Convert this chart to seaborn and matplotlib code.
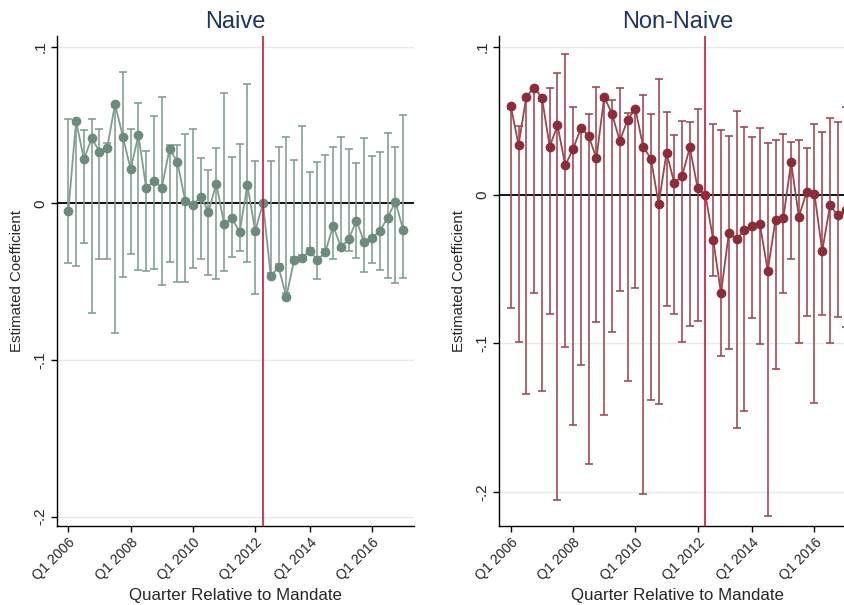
import numpy as np
import pandas as pd
import matplotlib
matplotlib.use("Agg")
import matplotlib.pyplot as plt
import seaborn as sns

# Quarter index 0 = Q1 2006 ... 43 = Q4 2016; mandate quarter (reference) = 25
quarters = list(range(44))
mandate_q = 25
tick_pos = [0, 8, 16, 24, 31, 39]
tick_labels = ["Q1 2006", "Q1 2008", "Q1 2010", "Q1 2012", "Q1 2014", "Q1 2016"]
ytick_vals = [0.1, 0.0, -0.1, -0.2]
ytick_labels = [".1", "0", "-.1", "-.2"]

nan = np.nan

coef_naive = [-0.0049, 0.0525, 0.0281, 0.0415, 0.0330, 0.0355, 0.0634, 0.0425, 0.0217, 0.0434,
              0.0096, 0.0143, 0.0100, 0.0347, 0.0266, 0.0017, -0.0011, 0.0043, -0.0055, 0.0126,
              -0.0130, -0.0096, -0.0183, 0.0115, -0.0177, 0.0, -0.0464, -0.0408, -0.0596, -0.0362,
              -0.0351, -0.0304, -0.0362, -0.0313, -0.0143, -0.0279, -0.0230, -0.0111, -0.0249, -0.0221,
              -0.0177, -0.0094, 0.0011, -0.0170]
upper_naive = [0.0538, 0.0505, 0.0468, 0.0538, 0.0472, 0.0383, 0.0614, 0.0840, 0.0472, 0.0638,
               0.0334, 0.0559, 0.0680, 0.0372, 0.0372, 0.0440, 0.0474, 0.0291, 0.0213, 0.0351,
               0.0706, 0.0294, 0.0377, 0.0759, 0.0272, nan, 0.0272, 0.0361, 0.0425, 0.0276,
               0.0496, 0.0202, 0.0262, 0.0310, 0.0360, 0.0421, 0.0349, 0.0260, 0.0417, 0.0302,
               0.0330, 0.0449, 0.0362, 0.0564]
lower_naive = [-0.0379, -0.0398, -0.0255, -0.0702, -0.0357, -0.0353, -0.0830, -0.0472, -0.0321, -0.0425,
               -0.0430, -0.0421, -0.0521, -0.0377, -0.0502, -0.0502, -0.0413, -0.0357, -0.0457, -0.0485,
               -0.0430, -0.0342, -0.0306, -0.0377, -0.0581, nan, -0.0444, -0.0388, -0.0576, -0.0342,
               -0.0331, -0.0284, -0.0485, -0.0293, -0.0353, -0.0298, -0.0304, -0.0351, -0.0440, -0.0383,
               -0.0425, -0.0474, -0.0506, -0.0479]

coef_nonnaive = [0.0600, 0.0337, 0.0663, 0.0724, 0.0656, 0.0326, 0.0470, 0.0200, 0.0310, 0.0450,
                 0.0398, 0.0247, 0.0661, 0.0548, 0.0364, 0.0506, 0.0582, 0.0326, 0.0245, -0.0061,
                 0.0285, 0.0081, 0.0128, 0.0321, 0.0045, 0.0, -0.0303, -0.0663, -0.0258, -0.0297,
                 -0.0236, -0.0207, -0.0198, -0.0510, -0.0166, -0.0157, 0.0220, -0.0146, 0.0022, 0.0009,
                 -0.0378, -0.0070, -0.0137, -0.0101]
upper_nonnaive = [0.0580, 0.0468, 0.0643, 0.0704, 0.0636, 0.0724, 0.0825, 0.0949, 0.0596, 0.0430,
                  0.0546, 0.0726, 0.0641, 0.0640, 0.0722, 0.0555, 0.0562, 0.0674, 0.0548, 0.0784,
                  0.0560, 0.0402, 0.0501, 0.0494, 0.0580, nan, 0.0479, 0.0436, 0.0400, 0.0569,
                  0.0459, 0.0393, 0.0454, 0.0348, 0.0369, 0.0409, 0.0360, 0.0371, 0.0319, 0.0479,
                  0.0427, 0.0519, 0.0492, 0.0596]
lower_nonnaive = [-0.0760, -0.0987, -0.1340, -0.0663, -0.1320, -0.0800, -0.2055, -0.1025, -0.1549, -0.1144,
                  -0.1810, -0.0856, -0.1480, -0.0920, -0.0650, -0.1254, -0.0625, -0.2014, -0.1378, -0.1410,
                  -0.0746, -0.0800, -0.0993, -0.0883, -0.0850, nan, -0.0546, -0.1083, -0.1036, -0.1567,
                  -0.1454, -0.0829, -0.1005, -0.2160, -0.1173, -0.0659, -0.0432, -0.1000, -0.0818, -0.1403,
                  -0.0807, -0.0996, -0.0825, -0.0890]

sns.set_style("white")
plt.rcParams["font.family"] = ["Liberation Sans", "DejaVu Sans"]

TITLE_COLOR = "#1c3461"
MANDATE_COLOR = "#c8163a"
GRID_COLOR = "#e4eaea"

fig = plt.figure(figsize=(8.45, 6.05), dpi=100)
ax_left = fig.add_axes([0.0675, 0.1306, 0.4225, 0.81])
ax_right = fig.add_axes([0.5911, 0.1306, 0.4225, 0.81])


def draw_panel(ax, title, coef, lower, upper, mark_color, line_color, ylim, capsize):
    df = pd.DataFrame({"quarter": quarters, "coef": coef, "lower": lower, "upper": upper})
    for yv in ytick_vals:
        if yv != 0:
            ax.axhline(yv, color=GRID_COLOR, lw=1.0, zorder=0)
    ax.axhline(0, color="black", lw=1.3, zorder=1)

    ci = df.dropna(subset=["lower", "upper"])
    mid = (ci["lower"] + ci["upper"]) / 2
    half = (ci["upper"] - ci["lower"]) / 2
    ax.errorbar(ci["quarter"], mid, yerr=half, fmt="none", ecolor=line_color,
                elinewidth=1.15, capsize=capsize, capthick=1.15, zorder=2)

    sns.lineplot(data=df, x="quarter", y="coef", ax=ax, color=line_color, lw=1.3,
                 marker="o", markersize=7, markerfacecolor=mark_color,
                 markeredgewidth=0, zorder=3)
    ax.axvline(mandate_q, color=MANDATE_COLOR, lw=1.2, zorder=4)

    ax.set_xlim(-1.45, 44.4)
    ax.set_ylim(*ylim)
    ax.set_xticks(tick_pos)
    ax.set_xticklabels(tick_labels, rotation=45, ha="right", va="top",
                       rotation_mode="anchor", fontsize=10)
    ax.set_yticks(ytick_vals)
    ax.set_yticklabels(ytick_labels, rotation=90, va="center", fontsize=11)
    ax.tick_params(axis="both", direction="out", length=4, width=1.0, color="black",
                   bottom=True, left=True, pad=3)
    ax.set_xlabel("Quarter Relative to Mandate", fontsize=12.2, labelpad=3)
    ax.set_ylabel("Estimated Coefficient", fontsize=10.8, labelpad=7)
    ax.set_title(title, color=TITLE_COLOR, fontsize=17, pad=6)
    for side in ("top", "right"):
        ax.spines[side].set_visible(False)
    for side in ("left", "bottom"):
        ax.spines[side].set_color("black")
        ax.spines[side].set_linewidth(1.0)


draw_panel(ax_left, "Naive", coef_naive, lower_naive, upper_naive,
           "#6b8b7c", "#7f9c8f", (-0.206, 0.1068), 2.7)
draw_panel(ax_right, "Non-Naive", coef_nonnaive, lower_nonnaive, upper_nonnaive,
           "#8a2d38", "#9b4650", (-0.223, 0.1072), 3.0)

fig.savefig("out.png", dpi=100)
